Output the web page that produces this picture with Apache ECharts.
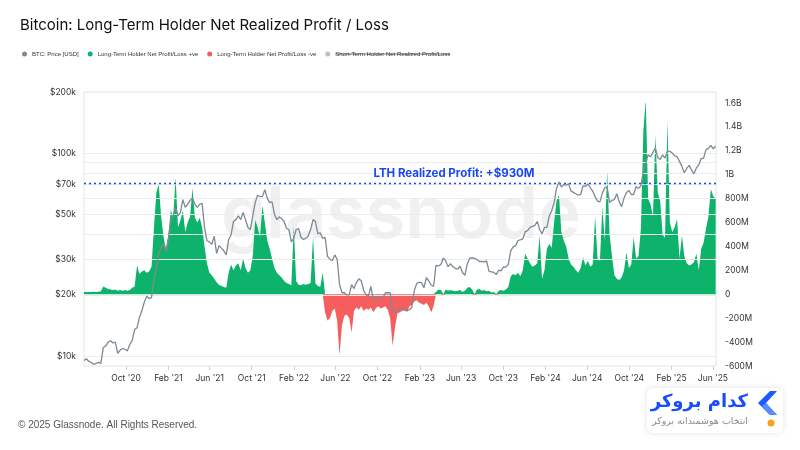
<!DOCTYPE html>
<html>
<head>
<meta charset="utf-8">
<title>Bitcoin: Long-Term Holder Net Realized Profit / Loss</title>
<script src="https://cdn.jsdelivr.net/npm/echarts@6/dist/echarts.min.js"></script>
<style>
html, body { margin: 0; padding: 0; background: #fff; }
#chart { width: 800px; height: 450px; }
</style>
</head>
<body>
<div id="chart"></div>
<script>
// weekly samples, first one on 2020-06-01 (Mondays)
// BTC price, thousands of USD
var price2020 = [9.5, 9.7, 9.4, 9.3, 9.1, 9.2, 9.3, 9.2, 11.0, 11.2, 11.7, 11.9, 11.6, 11.7, 10.3, 10.7, 10.9, 10.8,
	10.6, 11.4, 11.9, 13.5, 13.8, 15.5, 16.7, 18.4, 19.7, 19.2, 19.4, 23.8, 27.0];
var price2021 = [32.0, 34.0, 36.0, 32.5, 37.5, 46.5, 49.0, 54.0, 49.0, 51.0, 59.0, 54.0, 56.0, 58.5, 60.0, 56.0, 54.0,
	56.0, 56.5, 43.0, 37.0, 36.5, 35.5, 39.0, 32.0, 35.0, 34.0, 33.0, 31.5, 37.5, 39.5, 46.0, 47.0, 49.0, 47.0,
	51.0, 47.0, 43.0, 42.0, 49.0, 57.0, 62.0, 61.0, 61.0, 66.0, 60.0, 57.0, 57.5, 50.0, 47.0, 48.5, 47.5];
var price2022 = [46.0, 42.5, 42.0, 36.5, 38.0, 42.0, 42.5, 38.5, 37.5, 38.0, 39.0, 42.0, 47.0, 46.0, 40.0, 40.5, 38.0,
	38.5, 31.0, 30.0, 29.5, 31.5, 30.0, 22.5, 20.5, 20.5, 20.0, 20.0, 22.5, 21.5, 23.0, 24.0, 23.5, 21.0, 20.0,
	19.8, 22.0, 19.0, 19.5, 19.5, 19.2, 19.3, 20.5, 20.5, 20.5, 16.5, 16.5, 16.5, 17.0, 17.2, 16.8, 16.8];
var price2023 = [16.9, 17.4, 21.0, 22.8, 23.1, 23.0, 21.7, 24.3, 23.5, 22.4, 22.0, 28.0, 27.8, 28.2, 30.4, 29.5, 27.5,
	28.5, 27.6, 27.0, 26.8, 27.7, 25.8, 25.0, 28.5, 30.3, 30.5, 30.3, 29.9, 29.2, 29.3, 29.1, 29.4, 26.1, 26.0,
	25.8, 25.2, 26.5, 26.3, 27.5, 27.4, 28.3, 33.0, 34.5, 35.0, 37.0, 37.4, 37.8, 41.0, 41.5, 43.0, 43.5];
var price2024 = [44.0, 46.0, 42.0, 40.0, 43.0, 43.0, 49.0, 52.0, 57.0, 67.0, 72.0, 68.0, 70.0, 69.5, 70.5, 65.0, 64.0,
	63.0, 62.0, 62.5, 69.0, 68.5, 70.5, 67.5, 65.0, 61.0, 58.0, 57.5, 63.5, 67.5, 68.0, 57.0, 58.5, 59.0, 63.0,
	57.5, 54.5, 60.0, 64.0, 65.5, 62.5, 62.5, 68.5, 67.0, 69.0, 81.0, 90.0, 98.0, 96.0, 101.0, 106.0, 95.0, 93.0];
var price2025 = [98.0, 94.5, 102.0, 102.0, 100.0, 97.0, 96.0, 91.0, 86.0, 80.0, 84.0, 87.0, 82.5, 79.0, 84.5, 87.5,
	94.0, 94.5, 104.0, 105.5, 109.0, 105.0, 108.0];

// LTH net realized profit/loss, millions of USD
var lth2020 = [20, 20, 18, 20, 22, 20, 22, 25, 65, 55, 45, 40, 35, 40, 30, 35, 30, 35, 30, 35, 55, 65,
	240, 170, 190, 200, 180, 190, 230, 550, 850];
var lth2021 = [920, 650, 480, 380, 500, 700, 650, 975, 560, 620, 700, 520, 600, 650, 890, 640, 600,
	640, 560, 400, 260, 180, 160, 130, 100, 80, 70, 60, 55, 180, 250, 200, 240, 260, 200,
	300, 220, 180, 200, 320, 620, 560, 480, 740, 600, 450, 380, 300, 220, 180, 160, 140];
var lth2022 = [110, 95, 85, 75, 570, 110, 80, 75, 85, 80, 85, 95, 480, 90, 70, 60, 180,
	-150, -220, -200, -140, -120, -220, -510, -260, -180, -170, -200, -320, -140, -110, -130, -100, -140, -120,
	-130, -110, -150, -120, -100, -120, -110, -100, -130, -200, -430, -280, -160, -150, -140, -130, -150];
var lth2023 = [-100, -90, -60, -50, -70, -80, -90, -70, -100, -150, -100, 20, 40, 35, -15, 40, 30,
	35, 30, 25, 30, 35, 20, 30, 55, 60, 40, -12, 40, 45, 30, 35, 25, 30, 15,
	20, -12, 30, 35, 30, 40, 60, 150, 170, 160, 180, 150, 200, 340, 300, 260, 230];
var lth2024 = [240, 260, 490, 130, 200, 380, 420, 390, 600, 780, 830, 520, 450, 400, 300, 250, 230, 200,
	180, 220, 310, 240, 280, 230, 250, 650, 300, 280, 730, 450, 1030, 500, 320, 160, 130,
	120, 140, 200, 350, 220, 250, 480, 300, 320, 550, 1360, 1630, 800, 750, 650, 1330, 850, 780];
var lth2025 = [500, 470, 1450, 600, 520, 560, 630, 300, 490, 320, 260, 240, 250, 270, 340, 200, 380,
	430, 550, 650, 880, 820, 800];

var btcPrice = [].concat(price2020, price2021, price2022, price2023, price2024, price2025);
var lthNet = [].concat(lth2020, lth2021, lth2022, lth2023, lth2024, lth2025);

var xTicks = ['2020-10', '2021-02', '2021-06', '2021-10', '2022-02', '2022-06', '2022-10', '2023-02',
	'2023-06', '2023-10', '2024-02', '2024-06', '2024-10', '2025-02', '2025-06'];
var priceGrid = [10, 20, 30, 40, 50, 60, 70, 80, 90, 100, 200];
var priceTicks = [10, 20, 30, 50, 70, 100, 200];
var lthMark = 930;
var legendNames = ['BTC: Price [USD]', 'Long-Term Holder Net Profit/Loss +ve',
	'Long-Term Holder Net Profit/Loss -ve', 'Short-Term Holder Net Realized Profit/Loss'];

var MONTHS = ['Jan', 'Feb', 'Mar', 'Apr', 'May', 'Jun', 'Jul', 'Aug', 'Sep', 'Oct', 'Nov', 'Dec'];
var GREEN = '#0db36b', RED = '#f65e5e', GREY = '#7d8a92', BLUE = '#1a47f5';
var LEGEND_FONT = '6px "Liberation Sans"';

function monthStart(s) {
	var p = s.split('-');
	return +new Date(+p[0], +p[1] - 1, 1);
}

var dates = lthNet.map(function (v, i) {
	return +new Date(2020, 5, 1 + 7 * i);
});
var xMin = +new Date(2020, 5, 1);
var xMax = +new Date(2025, 5, 10);
var tickValues = xTicks.map(monthStart);

var priceData = btcPrice.map(function (v, i) { return [dates[i], v]; });
var posData = lthNet.map(function (v, i) { return [dates[i], v > 0 ? v : 0]; });
var negData = lthNet.map(function (v, i) { return [dates[i], v < 0 ? v : 0]; });

// where the last legend entry sits, to strike it through like the original (hidden series)
var measure = document.createElement('canvas').getContext('2d');
measure.font = LEGEND_FONT;
var legendLeft = 22, legendTop = 51, iconW = 5, iconGap = 5, itemGap = 9;
var strikeX = legendLeft;
for (var k = 0; k < legendNames.length - 1; k++) {
	strikeX += iconW + iconGap + measure.measureText(legendNames[k]).width + itemGap;
}
strikeX += iconW + iconGap;
var strikeW = measure.measureText(legendNames[legendNames.length - 1]).width;

var chart = echarts.init(document.getElementById('chart'), null, { renderer: 'canvas' });

var option = {
	backgroundColor: '#fff',
	animation: false,
	textStyle: { fontFamily: 'Inter' },
	title: {
		text: 'Bitcoin: Long-Term Holder Net Realized Profit / Loss',
		left: 20,
		top: 18,
		padding: 0,
		textStyle: { fontSize: 15, fontWeight: 'normal', color: '#111', fontFamily: 'Inter' }
	},
	legend: {
		left: legendLeft,
		top: legendTop,
		padding: 0,
		icon: 'circle',
		itemWidth: iconW,
		itemHeight: 5,
		itemGap: itemGap,
		selectedMode: false,
		textStyle: { fontSize: 6, color: '#333', fontFamily: 'Liberation Sans' },
		data: legendNames
	},
	grid: [{
		left: 84, right: 84, top: 92, bottom: 84,
		show: true, borderColor: '#e4e4e4', borderWidth: 1,
		outerBoundsMode: 'none'
	}, {
		left: 84, right: 84, top: 103, bottom: 84,
		outerBoundsMode: 'none'
	}],
	xAxis: [{
		// dates as timestamps on a value axis so ticks can sit on the 1st of every 4th month
		type: 'value',
		gridIndex: 0,
		min: xMin,
		max: xMax,
		axisLine: { show: false },
		splitLine: { show: false },
		axisTick: {
			show: true,
			customValues: tickValues,
			length: 4,
			lineStyle: { color: '#d0d0d0' }
		},
		axisLabel: {
			customValues: tickValues,
			margin: 8,
			fontSize: 8.5,
			color: '#333',
			formatter: function (v) {
				var d = new Date(v);
				return MONTHS[d.getMonth()] + " '" + String(d.getFullYear()).slice(2);
			}
		}
	}, {
		type: 'value',
		gridIndex: 1,
		min: xMin,
		max: xMax,
		show: false
	}],
	yAxis: [{
		type: 'log',
		gridIndex: 0,
		min: 8.93,
		max: 200,
		axisLine: { show: false },
		axisTick: { show: false },
		axisLabel: { show: false },
		splitLine: { show: false }
	}, {
		type: 'value',
		gridIndex: 1,
		position: 'right',
		min: -600,
		max: 1600,
		interval: 200,
		axisLine: { show: false },
		axisTick: { show: false },
		splitLine: { show: false },
		axisLabel: {
			margin: 9,
			fontSize: 8.5,
			color: '#333',
			formatter: function (v) {
				if (v === 0) return '0';
				if (Math.abs(v) >= 1000) return (v / 1000) + 'B';
				return v + 'M';
			}
		}
	}],
	graphic: [{
		type: 'text',
		left: 221,
		top: 180,
		z: -1,
		style: {
			text: 'glassnode',
			fontSize: 72,
			fontWeight: 600,
			fontFamily: 'Inter',
			fill: '#f0f0f0'
		}
	}, {
		type: 'line',
		shape: { x1: strikeX, y1: legendTop + 3, x2: strikeX + strikeW, y2: legendTop + 3 },
		style: { stroke: '#444', lineWidth: 0.7 }
	}, {
		type: 'text',
		left: 18,
		top: 420,
		style: {
			text: '\u00a9 2025 Glassnode. All Rights Reserved.',
			fontSize: 10,
			fontFamily: 'Liberation Sans',
			fill: '#555'
		}
	}, {
		type: 'group',
		children: [{
			type: 'rect',
			shape: { x: 647, y: 388, width: 136, height: 45, r: 6 },
			style: { fill: '#fff', shadowBlur: 6, shadowColor: 'rgba(0,0,0,0.12)' }
		}, {
			type: 'text',
			style: {
				x: 748, y: 402, text: '\u06a9\u062f\u0627\u0645 \u0628\u0631\u0648\u06a9\u0631',
				fontSize: 18, fontWeight: 'bold', fontFamily: 'DejaVu Sans',
				fill: '#1a4cff', align: 'right', verticalAlign: 'middle'
			}
		}, {
			type: 'text',
			style: {
				x: 748, y: 422, text: '\u0627\u0646\u062a\u062e\u0627\u0628 \u0647\u0648\u0634\u0645\u0646\u062f\u0627\u0646\u0647 \u0628\u0631\u0648\u06a9\u0631',
				fontSize: 9.5, fontFamily: 'DejaVu Sans',
				fill: '#8a8a8a', align: 'right', verticalAlign: 'middle'
			}
		}, {
			type: 'polygon',
			shape: { points: [[770, 391], [777, 391], [766, 403], [777, 415], [770, 415], [758, 403]] },
			style: { fill: '#1a5cff' }
		}, {
			type: 'polygon',
			shape: { points: [[766, 403], [777, 415], [770, 415], [762, 406]] },
			style: { fill: '#5b8cff' }
		}, {
			type: 'circle',
			shape: { cx: 771, cy: 423, r: 3.5 },
			style: { fill: '#f7a21b' }
		}]
	}],
	series: [{
		// price grid lines and $ labels on the log axis
		type: 'line',
		xAxisIndex: 0,
		yAxisIndex: 0,
		data: priceData,
		silent: true,
		showSymbol: false,
		lineStyle: { opacity: 0 },
		z: 1,
		markLine: {
			silent: true,
			symbol: 'none',
			lineStyle: { color: '#ececec', type: 'solid', width: 1 },
			label: {
				position: 'start',
				distance: 8,
				fontSize: 8.5,
				color: '#333',
				formatter: function (p) { return '$' + p.value + 'k'; }
			},
			data: priceGrid.map(function (v) {
				return { yAxis: v, label: { show: priceTicks.indexOf(v) >= 0 } };
			})
		}
	}, {
		name: legendNames[1],
		type: 'line',
		xAxisIndex: 1,
		yAxisIndex: 1,
		data: posData,
		showSymbol: false,
		itemStyle: { color: GREEN },
		lineStyle: { width: 0 },
		areaStyle: { color: GREEN, opacity: 1 },
		z: 3,
		markLine: {
			silent: true,
			symbol: 'none',
			lineStyle: { color: BLUE, type: [2, 3], width: 1.4 },
			label: {
				position: 'insideMiddleTop',
				distance: 4,
				padding: [0, 0, 0, 108],
				fontSize: 11.5,
				fontWeight: 'bold',
				fontFamily: 'Inter',
				color: BLUE,
				formatter: 'LTH Realized Profit: +$' + lthMark + 'M'
			},
			data: [{ yAxis: lthMark }]
		}
	}, {
		name: legendNames[2],
		type: 'line',
		xAxisIndex: 1,
		yAxisIndex: 1,
		data: negData,
		showSymbol: false,
		itemStyle: { color: RED },
		lineStyle: { width: 0 },
		areaStyle: { color: RED, opacity: 1 },
		z: 3
	}, {
		name: legendNames[3],
		type: 'line',
		xAxisIndex: 1,
		yAxisIndex: 1,
		data: [],
		itemStyle: { color: '#c9babd' }
	}, {
		name: legendNames[0],
		type: 'line',
		xAxisIndex: 0,
		yAxisIndex: 0,
		data: priceData,
		showSymbol: false,
		itemStyle: { color: GREY },
		lineStyle: { color: GREY, width: 1.3 },
		z: 5
	}]
};

chart.setOption(option);
</script>
</body>
</html>
